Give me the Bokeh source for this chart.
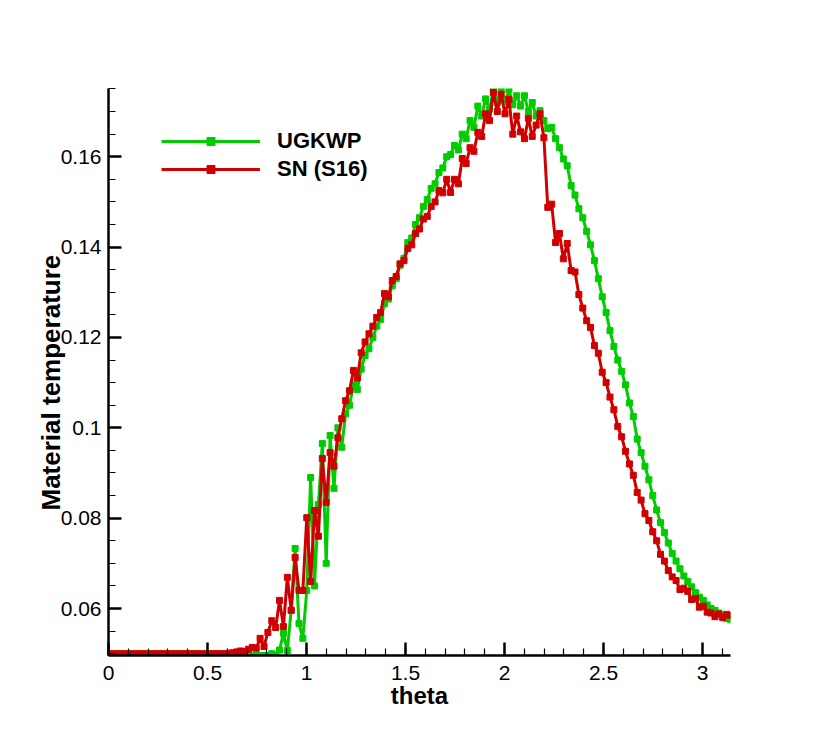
import numpy as np
from bokeh.plotting import figure
from bokeh.models import Range1d, FixedTicker, Legend, LegendItem, Title
from bokeh.embed import file_html
from bokeh.resources import INLINE

# ---------------- data ----------------
theta = np.linspace(0.0, np.pi, 161)

ugkwp = [0.0496] * 42 + [
    0.0500, 0.0496, 0.0508, 0.0545, 0.0507, 0.0596, 0.0733, 0.0567, 0.0534, 0.0640,   # 42-51
    0.0890, 0.0650, 0.0830, 0.0965, 0.0700, 0.0983, 0.0866, 0.1000, 0.0957, 0.1031,   # 52-61
    0.1050, 0.1095, 0.1085, 0.1130, 0.1160, 0.1175, 0.1200, 0.1225, 0.1240, 0.1275,   # 62-71
    0.1285, 0.1315, 0.1330, 0.1360, 0.1375, 0.1410, 0.1420, 0.1450, 0.1465, 0.1490,   # 72-81
    0.1505, 0.1530, 0.1540, 0.1565, 0.1575, 0.1600, 0.1605, 0.1625, 0.1615, 0.1650,   # 82-91
    0.1640, 0.1680, 0.1665, 0.1712, 0.1690, 0.1728, 0.1705, 0.1748, 0.1720, 0.1748,   # 92-101
    0.1722, 0.1748, 0.1715, 0.1735, 0.1712, 0.1735, 0.1700, 0.1720, 0.1690, 0.1702,   # 102-111
    0.1680, 0.1662, 0.1665, 0.1640, 0.1620, 0.1595, 0.1580, 0.1536, 0.1515, 0.1485,   # 112-121
    0.1465, 0.1435, 0.1405, 0.1370, 0.1330, 0.1290, 0.1255, 0.1215, 0.1180, 0.1150,   # 122-131
    0.1125, 0.1095, 0.1055, 0.1025, 0.0975, 0.0945, 0.0915, 0.0885, 0.0850, 0.0818,   # 132-141
    0.0790, 0.0768, 0.0745, 0.0722, 0.0705, 0.0688, 0.0672, 0.0660, 0.0648, 0.0635,   # 142-151
    0.0625, 0.0618, 0.0608, 0.0600, 0.0596, 0.0590, 0.0584, 0.0578, 0.0575,           # 152-160
]

sn_s16 = [0.0500] * 31 + [
    0.0501, 0.0502, 0.0504, 0.0506, 0.0505, 0.0510, 0.0514, 0.0512, 0.0534,           # 31-39
    0.0516, 0.0547, 0.0573, 0.0558, 0.0618, 0.0560, 0.0669, 0.0596, 0.0713, 0.0640,   # 40-49
    0.0640, 0.0801, 0.0660, 0.0817, 0.0760, 0.0932, 0.0835, 0.0945, 0.0915, 0.0978,   # 50-59
    0.1020, 0.1060, 0.1082, 0.1127, 0.1110, 0.1166, 0.1190, 0.1208, 0.1225, 0.1244,   # 60-69
    0.1255, 0.1297, 0.1290, 0.1326, 0.1335, 0.1363, 0.1370, 0.1397, 0.1405, 0.1430,   # 70-79
    0.1440, 0.1462, 0.1468, 0.1490, 0.1500, 0.1525, 0.1520, 0.1550, 0.1521, 0.1550,   # 80-89
    0.1540, 0.1596, 0.1585, 0.1620, 0.1612, 0.1654, 0.1645, 0.1695, 0.1680, 0.1742,   # 90-99
    0.1700, 0.1738, 0.1695, 0.1727, 0.1650, 0.1690, 0.1655, 0.1640, 0.1685, 0.1645,   # 100-109
    0.1670, 0.1695, 0.1642, 0.1488, 0.1495, 0.1410, 0.1430, 0.1374, 0.1408, 0.1348,   # 110-119
    0.1345, 0.1295, 0.1265, 0.1237, 0.1222, 0.1182, 0.1165, 0.1123, 0.1100, 0.1068,   # 120-129
    0.1040, 0.1003, 0.0980, 0.0948, 0.0920, 0.0895, 0.0857, 0.0840, 0.0810, 0.0795,   # 130-139
    0.0770, 0.0750, 0.0720, 0.0705, 0.0684, 0.0670, 0.0662, 0.0642, 0.0645, 0.0638,   # 140-149
    0.0620, 0.0622, 0.0603, 0.0605, 0.0592, 0.0590, 0.0582, 0.0588, 0.0580, 0.0587,   # 150-159
    0.0585,                                                                           # 160
]

series_names = ["UGKWP", "SN (S16)"]
series_colors = ["#00cc00", "#d00000"]

x_ticks = [0, 0.5, 1, 1.5, 2, 2.5, 3]
x_tick_labels = ["0", "0.5", "1", "1.5", "2", "2.5", "3"]
x_minor = [round(0.1 * k, 1) for k in range(0, 32)]
y_ticks = [0.06, 0.08, 0.10, 0.12, 0.14, 0.16]
y_tick_labels = ["0.06", "0.08", "0.1", "0.12", "0.14", "0.16"]
y_minor = [round(0.05 + 0.005 * k, 3) for k in range(0, 26)]

x_title = "theta"
y_title = "Material temperature"

FONT = "Liberation Sans"

# ---------------- figure ----------------
p = figure(frame_width=622, frame_height=567,
           x_range=Range1d(0, np.pi), y_range=Range1d(0.0496, 0.1751),
           output_backend="svg", toolbar_location=None,
           min_border_left=108, min_border_right=84,
           min_border_top=88, min_border_bottom=68)
p.outline_line_color = None
p.xgrid.visible = False
p.ygrid.visible = False
p.background_fill_color = "white"
p.border_fill_color = "white"

for ax in (p.xaxis[0], p.yaxis[0]):
    ax.axis_line_color = "black"
    ax.axis_line_width = 2.5
    ax.major_tick_in = 13
    ax.major_tick_out = 0
    ax.minor_tick_in = 7
    ax.minor_tick_out = 0
    ax.major_tick_line_color = "black"
    ax.major_tick_line_width = 2.5
    ax.minor_tick_line_color = "black"
    ax.minor_tick_line_width = 1.2
    ax.major_label_text_color = "black"
    ax.major_label_text_font = FONT
    ax.major_label_text_font_size = "21px"
    ax.axis_label_text_color = "black"
    ax.axis_label_text_font = FONT
    ax.axis_label_text_font_style = "bold"

p.xaxis.ticker = FixedTicker(ticks=x_ticks, minor_ticks=x_minor)
p.xaxis.major_label_overrides = {t: l for t, l in zip(x_ticks, x_tick_labels)}
p.xaxis.major_label_standoff = 10
p.xaxis.axis_label = x_title
p.xaxis.axis_label_text_font_size = "24px"
p.xaxis.axis_label_standoff = -1

p.yaxis.ticker = FixedTicker(ticks=y_ticks, minor_ticks=y_minor)
p.yaxis.major_label_overrides = {t: l for t, l in zip(y_ticks, y_tick_labels)}
p.yaxis.major_label_standoff = 7

p.add_layout(Title(text=y_title, align="left", offset=145, standoff=-17,
                   text_font=FONT, text_font_style="bold", text_font_size="26px",
                   text_color="black"), "left")

renderers = []
for vals, name, col in zip([ugkwp, sn_s16], series_names, series_colors):
    lr = p.line(theta, vals, line_color=col, line_width=3)
    sr = p.scatter(theta, vals, marker="square", size=6, fill_color=col, line_color=col)
    renderers.append((name, [lr, sr]))

legend = Legend(items=[LegendItem(label=n, renderers=r) for n, r in renderers],
                location=(53, 473), orientation="vertical",
                glyph_width=99, glyph_height=20, label_height=20,
                label_standoff=17, spacing=2, padding=0, margin=0,
                border_line_color=None, background_fill_alpha=0,
                label_text_font=FONT, label_text_font_style="bold",
                label_text_font_size="22px", label_text_color="black")
p.add_layout(legend)

open("out.html", "w").write(file_html(p, INLINE))
